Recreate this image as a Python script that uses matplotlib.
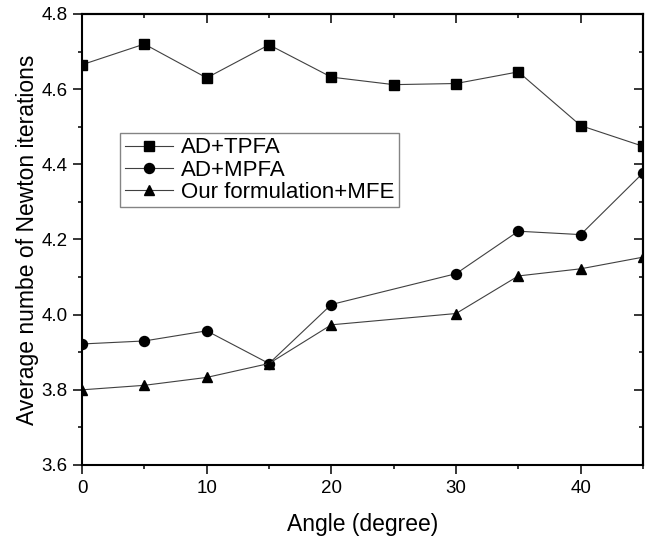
import matplotlib
matplotlib.use('Agg')
import matplotlib.pyplot as plt
from matplotlib.ticker import MultipleLocator, FormatStrFormatter

plt.rcParams['font.family'] = ['Liberation Sans', 'DejaVu Sans']

# Data
x_tpfa = [0, 5, 10, 15, 20, 25, 30, 35, 40, 45]
y_tpfa = [4.665, 4.72, 4.630, 4.718, 4.632, 4.612, 4.615, 4.646, 4.503, 4.448]

x_mpfa = [0, 5, 10, 15, 20, 30, 35, 40, 45]
y_mpfa = [3.922, 3.930, 3.957, 3.870, 4.027, 4.109, 4.222, 4.213, 4.377]

x_ours = [0, 5, 10, 15, 20, 30, 35, 40, 45]
y_ours = [3.800, 3.812, 3.833, 3.870, 3.973, 4.003, 4.103, 4.122, 4.153]

labels = ['AD+TPFA', 'AD+MPFA', 'Our formulation+MFE']

fig = plt.figure(figsize=(6.54, 5.40), dpi=100)
ax = fig.add_axes([0.1254, 0.1389, 0.8578, 0.8352])

line_kw = dict(color='#404040', linewidth=0.8, markerfacecolor='black',
               markeredgecolor='black')
ax.plot(x_tpfa, y_tpfa, marker='s', markersize=6.5, label=labels[0], **line_kw)
ax.plot(x_mpfa, y_mpfa, marker='o', markersize=7.2, label=labels[1], **line_kw)
ax.plot(x_ours, y_ours, marker='^', markersize=7.8, label=labels[2], **line_kw)

ax.set_xlim(0, 45)
ax.set_ylim(3.6, 4.8)
ax.xaxis.set_major_locator(MultipleLocator(10))
ax.xaxis.set_minor_locator(MultipleLocator(5))
ax.yaxis.set_major_locator(MultipleLocator(0.2))
ax.yaxis.set_minor_locator(MultipleLocator(0.1))
ax.yaxis.set_major_formatter(FormatStrFormatter('%.1f'))

# bottom/left ticks point out, top/right ticks point in
ax.tick_params(which='both', direction='out', labelsize=13.5, width=1.1, pad=4)
ax.tick_params(which='major', length=6.5)
ax.tick_params(which='minor', length=3.2)

top = ax.secondary_xaxis('top')
top.xaxis.set_major_locator(MultipleLocator(10))
top.xaxis.set_minor_locator(MultipleLocator(5))
top.tick_params(which='both', direction='in', labeltop=False, width=1.1)
top.tick_params(which='major', length=6.5)
top.tick_params(which='minor', length=3.2)

right = ax.secondary_yaxis('right')
right.yaxis.set_major_locator(MultipleLocator(0.2))
right.yaxis.set_minor_locator(MultipleLocator(0.1))
right.tick_params(which='both', direction='in', labelright=False, width=1.1)
right.tick_params(which='major', length=6.5)
right.tick_params(which='minor', length=3.2)

for a in (ax, top, right):
    for s in a.spines.values():
        s.set_linewidth(1.5)

ax.set_xlabel('Angle (degree)', fontsize=16.5, labelpad=12)
ax.set_ylabel('Average numbe of Newton iterations', fontsize=16.5, labelpad=2)

leg = ax.legend(loc='upper left', bbox_to_anchor=(0.068, 0.736), borderaxespad=0,
                fontsize=16, frameon=True, fancybox=False, edgecolor='#666666',
                borderpad=0.2, labelspacing=0.05, handlelength=2.2, handletextpad=0.35)
leg.get_frame().set_linewidth(1.0)

fig.savefig('out.png', dpi=100)
